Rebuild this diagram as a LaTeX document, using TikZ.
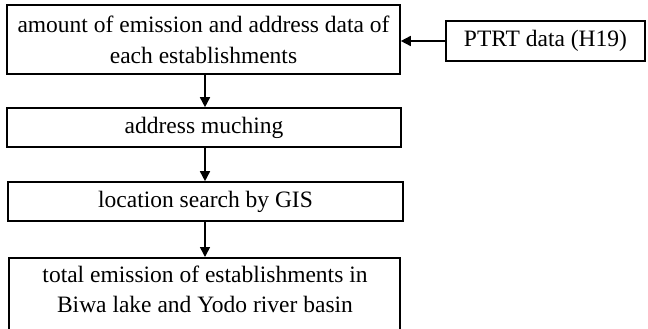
\documentclass[tikz,border=0pt]{standalone}
\usepackage{fontspec}
\setmainfont{Liberation Serif}
\usetikzlibrary{arrows.meta}
\begin{document}
\begin{tikzpicture}[x=1pt,y=-1pt,
  box/.style={draw=black, line width=1.6pt, inner sep=0pt, align=center,
    font=\fontsize{23.5}{31}\selectfont},
  txt/.style={inner sep=0pt, align=center, font=\fontsize{23.5}{30}\selectfont},
  conn/.style={line width=1.6pt, -{Triangle[length=10pt,width=10pt]}}]
\useasboundingbox[fill=white] (0,0) rectangle (648,329);
\node[box, minimum width=393pt, minimum height=69pt] (b1) at (203.5,39.5)
  {amount of emission and address data of\\ each establishments};
\node[box, minimum width=394pt, minimum height=39pt] (b2) at (204,127.5)
  {address muching};
\node[box, minimum width=395pt, minimum height=39pt] (b3) at (205.5,201.5)
  {location search by GIS};
\node[box, minimum width=391pt, minimum height=90pt, anchor=north] (b4) at (204.5,257) {};
\node[txt, anchor=north] (t4) at (205,266)
  {total emission of establishments in\\ Biwa lake and Yodo river basin};
\node[box, minimum width=199pt, minimum height=40pt] (p) at (545.5,41)
  {PTRT data (H19)};
\coordinate (ax) at (205,0);
\draw[conn] (b1.south -| ax) -- (b2.north -| ax);
\draw[conn] (b2.south -| ax) -- (b3.north -| ax);
\draw[conn] (b3.south -| ax) -- (b4.north -| ax);
\draw[conn] (p.west) -- (p.west -| b1.east);
\end{tikzpicture}
\end{document}
